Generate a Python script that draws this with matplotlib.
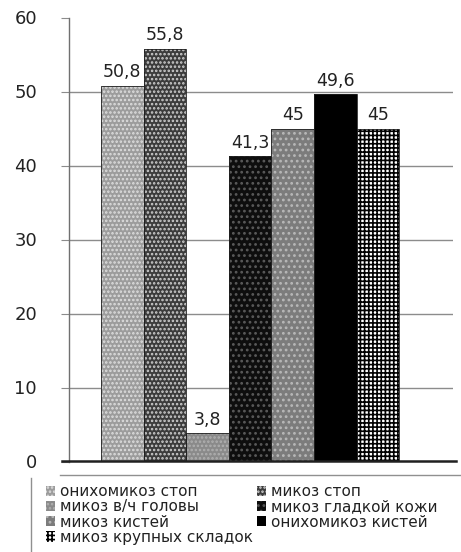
import matplotlib.pyplot as plt
from matplotlib.lines import Line2D
from matplotlib.patches import Patch
import numpy as np

categories = ['онихомикоз стоп', 'микоз стоп', 'микоз в/ч головы',
              'микоз гладкой кожи', 'микоз кистей', 'онихомикоз кистей',
              'микоз крупных складок']
values = [50.8, 55.8, 3.8, 41.3, 45, 49.6, 45]
value_labels = ['50,8', '55,8', '3,8', '41,3', '45', '49,6', '45']
yticks = [0, 10, 20, 30, 40, 50, 60]

# grey "fill effects" of the original: (face, hatch colour, hatch)
styles = [
    ('#9c9c9c', '#dedede', '....'),
    ('#3c3c3c', '#d0d0d0', '....'),
    ('#8a8a8a', '#b0b0b0', '....'),
    ('#0e0e0e', '#5a5a5a', '...'),
    ('#7c7c7c', '#b8b8b8', '...'),
    ('#000000', '#000000', ''),
    ('#ffffff', '#000000', '++++'),
]

plt.rcParams['font.family'] = ['DejaVu Sans']
plt.rcParams['hatch.linewidth'] = 1.2

W, H = 461, 552
fig = plt.figure(figsize=(W / 100, H / 100), dpi=100)
ax = fig.add_axes([69 / W, (H - 461.5) / H, (453 - 69) / W, (461.5 - 17.5) / H])

ind = np.arange(len(values))
for i, v in enumerate(values):
    face, hcol, hatch = styles[i]
    ax.bar(ind[i], v, 1.0, color=face, edgecolor=hcol, hatch=hatch,
           linewidth=0, zorder=3)
    ax.bar(ind[i], v, 1.0, fill=False, edgecolor='#202020', linewidth=0.6,
           zorder=4)
    ax.annotate(value_labels[i], (ind[i], v), xytext=(0, 3),
                textcoords='offset points', ha='center', va='bottom',
                fontsize=12.5, color='#222222', zorder=5)

ax.set_xlim(-1.25, 7.76)
ax.set_ylim(0, 60)
ax.set_yticks(yticks)
ax.set_xticks([])
for y in yticks[1:-1]:
    ax.axhline(y, color='#8c8c8c', linewidth=1.0, zorder=1)
ax.tick_params(axis='y', direction='out', length=6, color='#8c8c8c',
               labelsize=13, labelcolor='#222222', pad=17)
for s in ['top', 'right', 'bottom']:
    ax.spines[s].set_visible(False)
ax.spines['left'].set_color('#707070')
ax.spines['left'].set_linewidth(1.0)

# base line and the legend frame lines
fig.add_artist(Line2D([62 / W, 456 / W], [(H - 460.5) / H] * 2,
                      color='#202020', linewidth=1.8))
fig.add_artist(Line2D([60 / W, 461 / W], [(H - 475) / H] * 2,
                      color='#909090', linewidth=1.0))
fig.add_artist(Line2D([31 / W, 31 / W], [(H - 478) / H, 0],
                      color='#909090', linewidth=1.0))

handles = []
for face, hcol, hatch in styles:
    handles.append(Patch(facecolor=face, edgecolor=hcol, hatch=hatch,
                         linewidth=0))

cols = [[0, 2, 4, 6], [1, 3, 5]]
anchors = [(46 / W, (H - 484) / H), (257 / W, (H - 484) / H)]
for col, anchor in zip(cols, anchors):
    leg = fig.legend([handles[i] for i in col], [categories[i] for i in col],
                     loc='upper left', bbox_to_anchor=anchor, frameon=False,
                     fontsize=11, handlelength=0.6, handleheight=0.65,
                     handletextpad=0.3, labelspacing=0.02, borderpad=0,
                     borderaxespad=0)
    for t in leg.get_texts():
        t.set_color('#222222')

fig.savefig('out.png', dpi=100)
